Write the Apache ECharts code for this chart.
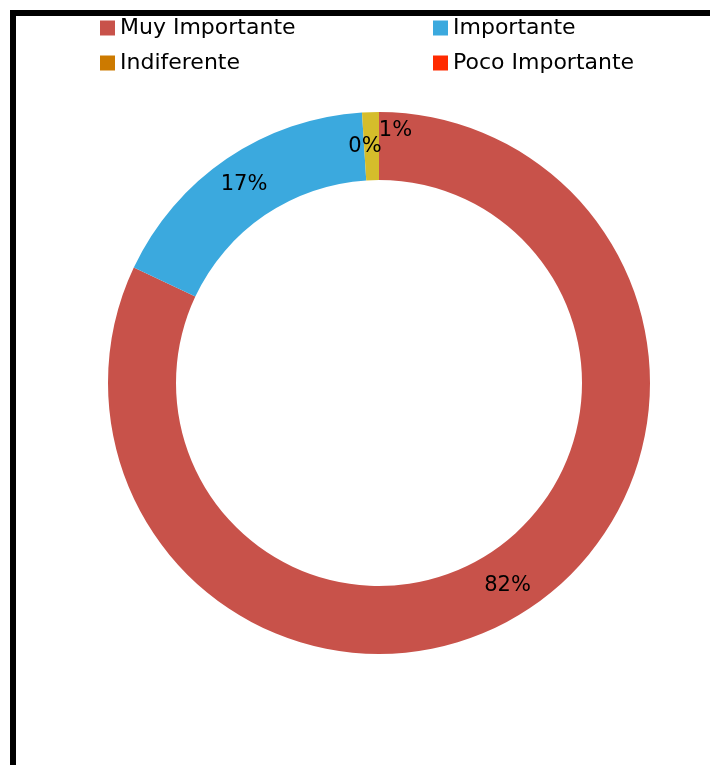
<!DOCTYPE html>
<html>
<head>
<meta charset="utf-8">
<script src="https://cdn.jsdelivr.net/npm/echarts@6/dist/echarts.min.js"></script>
<style>
  html, body { margin: 0; padding: 0; background: #ffffff; }
  #chart { width: 710px; height: 765px; }
</style>
</head>
<body>
<div id="chart"></div>
<script>
// Survey answers, in drawing order (clockwise from 12 o'clock)
const categories = ['Muy Importante', 'Importante', 'Indiferente', 'Poco Importante'];
const values = [82, 17, 1, 0];
const sliceColors = ['#C8524A', '#3BA9DE', '#D5BD2B', '#FF2A00'];
const legendColors = ['#C8524A', '#3BA9DE', '#CC7A00', '#FF2A00'];
// label nudges for the two thin slices at the top
const labelOffsets = [[0, 0], [0, 0], [24, -13], [-14, 1]];

const FONT = "'DejaVu Sans', sans-serif";
const LABEL_SIZE = 21;

const pieData = categories.map((name, i) => ({
  name: name,
  value: values[i],
  itemStyle: { color: sliceColors[i] },
  label: { offset: labelOffsets[i] }
}));

function legendItems(names) {
  return names.map(n => ({
    name: n,
    itemStyle: { color: legendColors[categories.indexOf(n)] }
  }));
}

const legendBase = {
  orient: 'vertical',
  top: 17,
  padding: 0,
  itemWidth: 15,
  itemHeight: 15,
  itemGap: 13,
  icon: 'rect',
  textStyle: { fontFamily: FONT, fontSize: 22, color: '#000000' }
};

const frame = {
  id: 'frame',
  type: 'rect',
  silent: true,
  z: 100,
  shape: { x: 13, y: 13, width: 800, height: 800 },
  style: { fill: null, stroke: '#000000', lineWidth: 6 }
};

const chart = echarts.init(document.getElementById('chart'), null, { renderer: 'canvas' });
chart.setOption({
  backgroundColor: '#ffffff',
  animation: false,
  legend: [
    Object.assign({}, legendBase, { left: 100, data: legendItems(['Muy Importante', 'Indiferente']) }),
    Object.assign({}, legendBase, { left: 433, data: legendItems(['Importante', 'Poco Importante']) })
  ],
  graphic: [frame],
  series: [{
    type: 'pie',
    center: [379, 383],
    radius: [203, 271],
    startAngle: 90,
    clockwise: true,
    percentPrecision: 0,
    avoidLabelOverlap: false,
    label: {
      show: true,
      position: 'inside',
      formatter: '{d}%',
      fontFamily: FONT,
      fontSize: LABEL_SIZE,
      color: '#000000'
    },
    labelLine: { show: false },
    emphasis: { disabled: true },
    itemStyle: { borderWidth: 0 },
    data: pieData
  }]
});

// ECharts skips labels on zero-value sectors, so place those from the
// pie's own sector layout (mid-angle, mid-ring) with the same label style.
const seriesData = chart.getModel().getSeriesByIndex(0).getData();
const total = values.reduce((a, b) => a + b, 0);
const zeroLabels = [];
values.forEach((v, i) => {
  if (v !== 0) return;
  const lay = seriesData.getItemLayout(i);
  const mid = (lay.startAngle + lay.endAngle) / 2;
  const rm = (lay.r0 + lay.r) / 2;
  zeroLabels.push({
    id: 'zero-label-' + i,
    type: 'text',
    silent: true,
    z: 50,
    x: lay.cx + rm * Math.cos(mid) + labelOffsets[i][0],
    y: lay.cy + rm * Math.sin(mid) + labelOffsets[i][1],
    style: {
      text: Math.round(v / total * 100) + '%',
      fontFamily: FONT,
      fontSize: LABEL_SIZE,
      fill: '#000000',
      align: 'center',
      verticalAlign: 'middle'
    }
  });
});
chart.setOption({ graphic: [frame].concat(zeroLabels) });
</script>
</body>
</html>
